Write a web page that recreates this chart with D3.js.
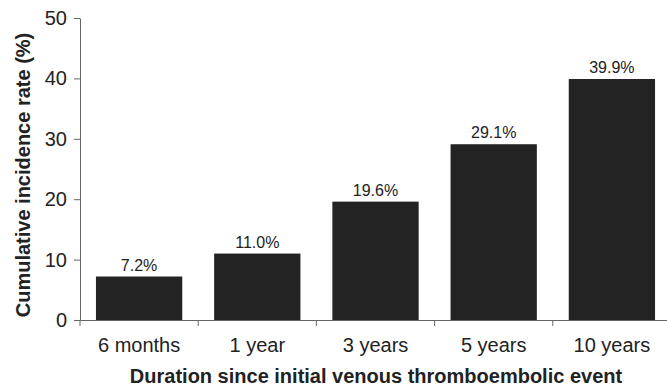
<!DOCTYPE html>
<html>
<head>
<meta charset="utf-8">
<script src="https://cdn.jsdelivr.net/npm/d3@7"></script>
<style>
  body { margin: 0; background: #fff; }
  text { font-family: "Liberation Sans", Arial, Helvetica, sans-serif; fill: #222; }
</style>
</head>
<body>
<div id="chart-area"></div>
<script>
var categories = ['6 months', '1 year', '3 years', '5 years', '10 years']
var rates = [7.2, 11.0, 19.6, 29.1, 39.9]
var rateLabels = ['7.2%', '11.0%', '19.6%', '29.1%', '39.9%']
var yTicks = [0, 10, 20, 30, 40, 50]

var margin = { top: 18, left: 80, bottom: 66, right: -4 }
var width = 667 - margin.left - margin.right
var height = 386 - margin.top - margin.bottom

var svg = d3.select('#chart-area').append('svg')
    .attr('width', 667)
    .attr('height', 386)

var g = svg.append('g').attr('transform', `translate(${ margin.left }, ${ margin.top })`)

// band scale for the slots (ticks sit on the slot edges) and one for the bars
var slots = d3.scaleBand().domain(categories).range([0, width])
var x = d3.scaleBand().domain(categories).range([0, width]).paddingInner(.27).paddingOuter(.135)
var y = d3.scaleLinear().domain([0, 50]).range([height, 0])

var data = categories.map((c, i) => ({ cat: c, rate: rates[i], label: rateLabels[i] }))

g.selectAll('rect.bar').data(data).enter()
    .append('rect')
        .attr('class', 'bar')
        .attr('x', d => x(d.cat))
        .attr('width', x.bandwidth())
        .attr('y', d => y(d.rate))
        .attr('height', d => height - y(d.rate))
        .attr('fill', '#232323')

g.selectAll('text.val').data(data).enter()
    .append('text')
        .attr('class', 'val')
        .attr('x', d => x(d.cat) + x.bandwidth() / 2)
        .attr('y', d => y(d.rate) - 6)
        .attr('text-anchor', 'middle')
        .attr('font-size', '16px')
        .text(d => d.label)

// y axis
var yAxisGroup = g.append('g').attr('class', 'y-axis')
    .call(d3.axisLeft(y).tickValues(yTicks).tickSize(6).tickPadding(7).tickSizeOuter(0))
yAxisGroup.selectAll('text').attr('font-size', '20px').style('fill', '#222')
yAxisGroup.selectAll('line, path').attr('stroke', '#666')

// x axis: labels centred in slots, ticks on slot boundaries
var xAxisGroup = g.append('g').attr('class', 'x-axis').attr('transform', `translate(0, ${ height })`)
    .call(d3.axisBottom(slots).tickSize(0).tickPadding(18).tickSizeOuter(0))
xAxisGroup.selectAll('text').attr('font-size', '20px').style('fill', '#222')
xAxisGroup.select('path').attr('stroke', '#666')
xAxisGroup.selectAll('.tick line').remove()

var edges = categories.map(c => slots(c)).concat([width])
xAxisGroup.selectAll('line.edge').data(edges).enter()
    .append('line')
        .attr('class', 'edge')
        .attr('x1', d => d).attr('x2', d => d)
        .attr('y1', 0).attr('y2', 6)
        .attr('stroke', '#666')

// axis titles
svg.append('text')
    .attr('x', 376)
    .attr('y', 383)
    .attr('text-anchor', 'middle')
    .attr('font-size', '20px')
    .attr('font-weight', 'bold')
    .text('Duration since initial venous thromboembolic event')

svg.append('text')
    .attr('transform', 'translate(30, 175) rotate(-90)')
    .attr('text-anchor', 'middle')
    .attr('font-size', '20px')
    .attr('font-weight', 'bold')
    .text('Cumulative incidence rate (%)')
</script>
</body>
</html>
